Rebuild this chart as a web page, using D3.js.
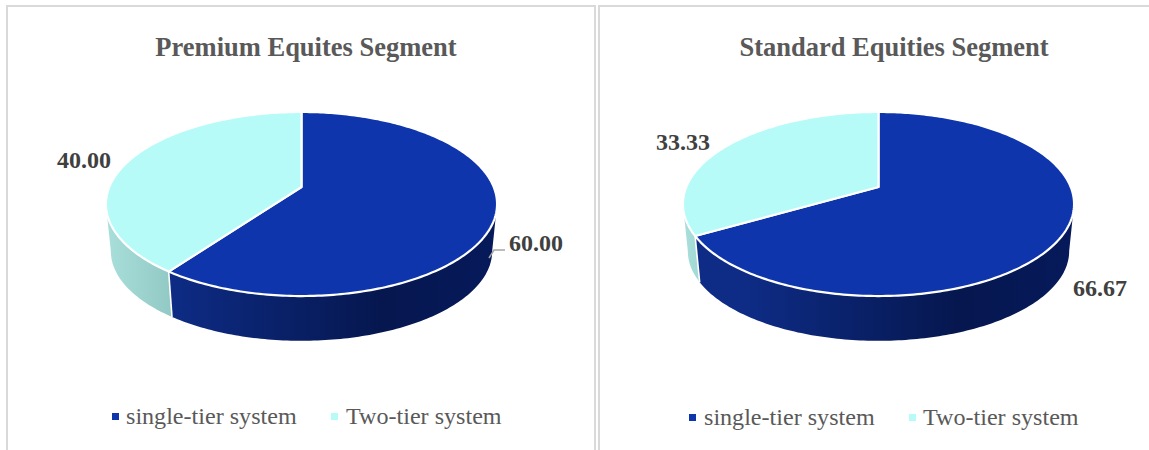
<!DOCTYPE html>
<html>
<head>
<meta charset="utf-8">
<style>
  html, body { margin: 0; padding: 0; background: #fff; }
  svg { display: block; }
  text { font-family: "Liberation Serif", serif; }
</style>
<script src="https://cdn.jsdelivr.net/npm/d3@7/dist/d3.min.js"></script>
</head>
<body>
<svg id="chart" width="1149" height="450"></svg>
<script>
const categories = ["single-tier system", "Two-tier system"];
const premiumValues = [60.00, 40.00];
const standardValues = [66.67, 33.33];
const panelTitles = ["Premium Equites Segment", "Standard Equities Segment"];

const topColors = ["#0f35ad", "#b6fbf8"];
const sideStops = [
  [["0%", "#0e2c86"], ["65%", "#06174f"], ["100%", "#06195a"]],
  [["0%", "#a9dfdb"], ["100%", "#92c9c5"]]
];

const svg = d3.select("#chart");
const defs = svg.append("defs");

// Tilted disc: a unit circle seen through a projective map, so the hub sits above the rim's middle.
const tilt = 0.1847, scaleX = 192.2, scaleY = 88.9, depth = 47.5, shrink = 0.975;
// Angle at which the projected rim is widest; the wall's silhouette starts here.
const wallStart = Math.acos(-tilt);

function project(angle, g, floor) {
  const u = Math.sin(angle), v = -Math.cos(angle), w = 1 - tilt * v;
  const x = scaleX * u / w, y = scaleY * v / w;
  return floor ? [g.cx + shrink * x, g.hubY + shrink * y + depth]
               : [g.cx + x, g.hubY + y];
}

const arcPoints = (a0, a1, g, floor) => {
  const n = Math.max(2, Math.ceil((a1 - a0) * 60));
  return d3.range(n + 1).map(i => project(a0 + (a1 - a0) * i / n, g, floor));
};

const line = d3.line();
const pie = d3.pie().sort(null).startAngle(0).endAngle(2 * Math.PI);

function drawPanel(cfg, idx) {
  const root = svg.append("g");
  const slices = pie(cfg.values);

  // Panel frame
  root.append("path")
    .attr("d", line(cfg.frame))
    .attr("fill", "none").attr("stroke", "#d9d9d9").attr("stroke-width", 2);

  root.append("text").text(cfg.title)
    .attr("x", cfg.titleX).attr("y", 56).attr("text-anchor", "middle")
    .attr("font-size", 26.5).attr("font-weight", "bold").attr("fill", "#595959");

  // Side wall, visible only along the front of the disc
  const xMin = cfg.cx - 195, xMax = cfg.cx + 195;
  slices.forEach((s, i) => {
    const id = `wall-${idx}-${i}`;
    const grad = defs.append("linearGradient").attr("id", id)
      .attr("gradientUnits", "userSpaceOnUse")
      .attr("x1", i === 0 ? cfg.cx - 135 : xMin).attr("x2", i === 0 ? xMax : cfg.cx - 130)
      .attr("y1", 0).attr("y2", 0);
    sideStops[i].forEach(([o, c]) => grad.append("stop").attr("offset", o).attr("stop-color", c));

    const a0 = Math.max(s.startAngle, wallStart);
    const a1 = Math.min(s.endAngle, 2 * Math.PI - wallStart);
    if (a1 <= a0) return;
    const upper = arcPoints(a0, a1, cfg, false);
    const lower = arcPoints(a0, a1, cfg, true).reverse();
    root.append("path")
      .attr("d", line(upper.concat(lower)) + "Z")
      .attr("fill", `url(#${id})`);
  });

  // White seam where the two walls meet
  const seam = slices[0].endAngle;
  root.append("path")
    .attr("d", line([project(seam, cfg, false), project(seam, cfg, true)]))
    .attr("stroke", "#ffffff").attr("stroke-width", 1.6).attr("fill", "none");

  // Top face
  slices.forEach((s, i) => {
    const rim = arcPoints(s.startAngle, s.endAngle, cfg, false);
    root.append("path")
      .attr("d", line([[cfg.cx, cfg.hubY], ...rim]) + "Z")
      .attr("fill", topColors[i])
      .attr("stroke", "#ffffff").attr("stroke-width", 2.2)
      .attr("stroke-linejoin", "round");
  });

  // Value labels
  if (cfg.leader) {
    root.append("path").attr("d", line(cfg.leader))
      .attr("fill", "none").attr("stroke", "#a6a6a6").attr("stroke-width", 1.5);
  }
  cfg.values.forEach((v, i) => {
    root.append("text").text(d3.format(".2f")(v))
      .attr("x", cfg.labels[i][0]).attr("y", cfg.labels[i][1])
      .attr("font-size", 24).attr("font-weight", "bold").attr("fill", "#404040");
  });

  // Legend
  categories.forEach((c, i) => {
    root.append("rect")
      .attr("x", cfg.legendSwatch[i]).attr("y", cfg.legendY - 11)
      .attr("width", 7).attr("height", 7).attr("fill", topColors[i]);
    root.append("text").text(c)
      .attr("x", cfg.legendText[i]).attr("y", cfg.legendY)
      .attr("font-size", 24.1).attr("fill", "#595959");
  });
}

drawPanel({
  title: panelTitles[0], titleX: 306, values: premiumValues,
  cx: 301.5, hubY: 187,
  frame: [[7, 450], [7, 6], [595, 6], [595, 450]],
  labels: [[509, 251], [57, 168]],
  leader: [[489, 258], [494, 250], [505, 250]],
  legendSwatch: [112, 331], legendText: [126, 346], legendY: 424
}, 0);

drawPanel({
  title: panelTitles[1], titleX: 894, values: standardValues,
  cx: 878.5, hubY: 187,
  frame: [[599, 450], [599, 6], [1149, 6]],
  labels: [[1073, 296], [656, 150]],
  leader: null,
  legendSwatch: [689, 909], legendText: [704, 923], legendY: 425
}, 1);
</script>
</body>
</html>
